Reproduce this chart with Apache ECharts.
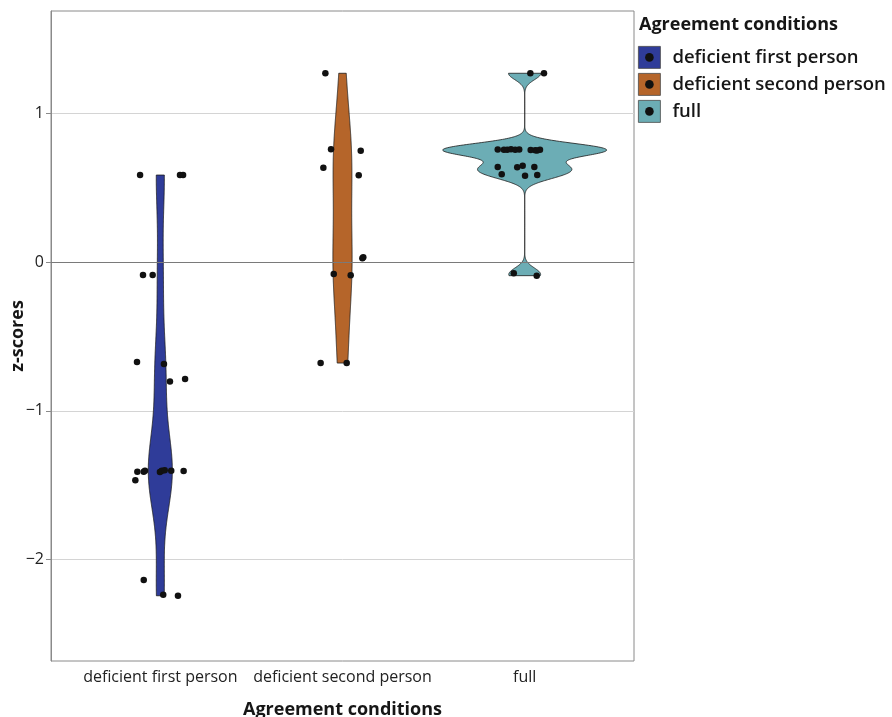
<!DOCTYPE html>
<html>
<head>
<meta charset="utf-8">
<script src="https://cdn.jsdelivr.net/npm/echarts@6/dist/echarts.min.js"></script>
<style>
  html, body { margin: 0; padding: 0; background: #ffffff; }
  #chart { width: 892px; height: 717px; }
</style>
</head>
<body>
<div id="chart"></div>
<script>
// Agreement conditions on the x axis
const categories = ['deficient first person', 'deficient second person', 'full'];
const fillColors = ['#2F3C99', '#B5652A', '#6CADB5'];
const yTickValues = [-2, -1, 0, 1];

// z-scores per condition, with the horizontal jitter of each dot (category units)
const firstPersonZ = [0.587, 0.587, 0.587, -0.085, -0.085, -0.671, -0.684, -0.803, -0.785,
  -1.409, -1.409, -1.402, -1.411, -1.402, -1.400, -1.402, -1.404, -1.467, -2.138, -2.237, -2.244];
const firstPersonJitter = [-0.111, 0.108, 0.125, -0.095, -0.042, -0.128, 0.020, 0.053, 0.136,
  -0.126, -0.091, -0.084, -0.002, 0.008, 0.024, 0.060, 0.128, -0.137, -0.091, 0.016, 0.097];

const secondPersonZ = [1.272, 0.760, 0.751, 0.637, 0.585, 0.027, 0.034, -0.079, -0.087, -0.678, -0.678];
const secondPersonJitter = [-0.094, -0.063, 0.100, -0.105, 0.089, 0.109, 0.114, -0.048, 0.045, -0.120, 0.023];

const fullZ = [1.272, 1.272,
  0.759, 0.757, 0.758, 0.760, 0.757, 0.759, 0.756, 0.754, 0.752, 0.757,
  0.641, 0.639, 0.650, 0.641, 0.592, 0.583, 0.587, -0.074, -0.090];
const fullJitter = [0.031, 0.106,
  -0.148, -0.114, -0.096, -0.075, -0.052, -0.030, 0.033, 0.058, 0.068, 0.084,
  -0.148, -0.041, -0.011, 0.053, -0.126, 0.002, 0.069, -0.060, 0.066];

const groupValues = [firstPersonZ, secondPersonZ, fullZ];
const groupJitter = [firstPersonJitter, secondPersonJitter, fullJitter];

// ---- kernel density (Gaussian kernel, Silverman's rule-of-thumb bandwidth) ----
function quantile7(sorted, p) {
  const h = (sorted.length - 1) * p;
  const lo = Math.floor(h);
  const hi = Math.min(lo + 1, sorted.length - 1);
  return sorted[lo] + (h - lo) * (sorted[hi] - sorted[lo]);
}
function bandwidthNrd0(x) {
  const n = x.length;
  const m = x.reduce((a, b) => a + b, 0) / n;
  const sd = Math.sqrt(x.reduce((a, b) => a + (b - m) * (b - m), 0) / (n - 1));
  const s = x.slice().sort((a, b) => a - b);
  const iqr = quantile7(s, 0.75) - quantile7(s, 0.25);
  let lo = Math.min(sd, iqr / 1.34);
  if (!(lo > 0)) lo = sd || Math.abs(s[0]) || 1;
  return 0.9 * lo * Math.pow(n, -0.2);
}
function densityProfile(x, gridSize) {
  const bw = bandwidthNrd0(x);
  const lo = Math.min(...x), hi = Math.max(...x);
  const out = [];
  const norm = 1 / (x.length * bw * Math.sqrt(2 * Math.PI));
  for (let i = 0; i < gridSize; i++) {
    const y = lo + (hi - lo) * i / (gridSize - 1);
    let d = 0;
    for (const xi of x) {
      const u = (y - xi) / bw;
      d += Math.exp(-0.5 * u * u);
    }
    out.push([y, d * norm]);
  }
  return out;
}
const rawProfiles = groupValues.map(v => densityProfile(v, 512));
const maxDensity = Math.max(...rawProfiles.map(p => Math.max(...p.map(q => q[1]))));
// equal-area scaling: the densest violin spans 0.9 of a category slot
const violinProfiles = rawProfiles.map(p => p.map(([y, d]) => [y, 0.45 * d / maxDensity]));

const violinData = categories.map((c, i) => [i + 1, 0]);
const pointData = [];
groupValues.forEach((vals, g) => {
  vals.forEach((v, j) => pointData.push([g + 1 + groupJitter[g][j], v]));
});

const FONT = '"Open Sans", "DejaVu Sans", sans-serif';
const TEXT = '#161616';
const GRAYLINE = '#8a8a8a';

const chart = echarts.init(document.getElementById('chart'), null, { renderer: 'canvas' });

chart.setOption({
  animation: false,
  backgroundColor: '#ffffff',
  textStyle: { fontFamily: FONT },
  grid: {
    left: 51, right: 258, top: 11, bottom: 56,
    outerBoundsMode: 'none',
    containLabel: false,
    show: true, borderColor: GRAYLINE, borderWidth: 1, backgroundColor: 'transparent'
  },
  xAxis: {
    type: 'value',
    min: 0.4, max: 3.6,
    name: 'Agreement conditions',
    nameLocation: 'middle',
    nameGap: 40,
    nameMoveOverlap: false,
    nameTextStyle: { fontFamily: FONT, fontSize: 18, fontWeight: 'bold', color: TEXT },
    axisLine: { show: false },
    axisTick: { show: false },
    splitLine: { show: false },
    axisLabel: {
      customValues: [1, 2, 3],
      formatter: v => categories[Math.round(v) - 1],
      fontFamily: FONT, fontSize: 16, color: '#222222', margin: 8
    }
  },
  yAxis: {
    type: 'value',
    min: -2.683, max: 1.691,
    name: 'z-scores',
    nameLocation: 'middle',
    nameGap: 24,
    nameMoveOverlap: false,
    nameTextStyle: { fontFamily: FONT, fontSize: 18, fontWeight: 'bold', color: TEXT },
    axisLine: { show: true, lineStyle: { color: GRAYLINE, width: 1 } },
    axisTick: { show: true, length: 5, customValues: yTickValues, lineStyle: { color: GRAYLINE } },
    axisLabel: {
      customValues: yTickValues,
      formatter: v => (v < 0 ? '\u2212' + Math.abs(v) : String(v)),
      fontFamily: FONT, fontSize: 16, color: '#222222', margin: 7
    },
    splitLine: { show: true, lineStyle: { color: '#d4d4d4', width: 1 } }
  },
  series: [
    {
      // reference line at zero
      type: 'line',
      data: [],
      z: 1,
      silent: true,
      markLine: {
        silent: true,
        symbol: 'none',
        label: { show: false },
        lineStyle: { color: '#7a7a7a', width: 1, type: 'solid' },
        data: [{ yAxis: 0 }]
      }
    },
    {
      type: 'custom',
      z: 2,
      silent: true,
      data: violinData,
      renderItem: function (params, api) {
        const g = Math.round(api.value(0)) - 1;
        const prof = violinProfiles[g];
        const center = g + 1;
        const pts = [];
        for (let i = 0; i < prof.length; i++) pts.push(api.coord([center + prof[i][1], prof[i][0]]));
        for (let i = prof.length - 1; i >= 0; i--) pts.push(api.coord([center - prof[i][1], prof[i][0]]));
        return {
          type: 'polygon',
          shape: { points: pts },
          style: { fill: fillColors[g], stroke: '#1a1a1a', lineWidth: 0.8 }
        };
      }
    },
    {
      type: 'scatter',
      z: 3,
      silent: true,
      symbol: 'circle',
      symbolSize: 6.5,
      itemStyle: { color: '#111111', opacity: 1 },
      data: pointData
    }
  ],
  graphic: [
    {
      type: 'text', left: 639, top: 16,
      style: { text: 'Agreement conditions', font: 'bold 18px ' + FONT, fill: TEXT }
    },
    ...categories.map((c, i) => ({
      type: 'group', left: 638, top: 46 + i * 27,
      children: [
        { type: 'rect', shape: { x: 0, y: 0, width: 22, height: 22 },
          style: { fill: fillColors[i], stroke: '#4a4a4a', lineWidth: 0.8 } },
        { type: 'circle', shape: { cx: 11, cy: 11, r: 4.3 }, style: { fill: '#111111' } },
        { type: 'text', x: 34, y: 11,
          style: { text: c, font: '600 18.5px ' + FONT, fill: TEXT, verticalAlign: 'middle' } }
      ]
    }))
  ]
});
</script>
</body>
</html>
